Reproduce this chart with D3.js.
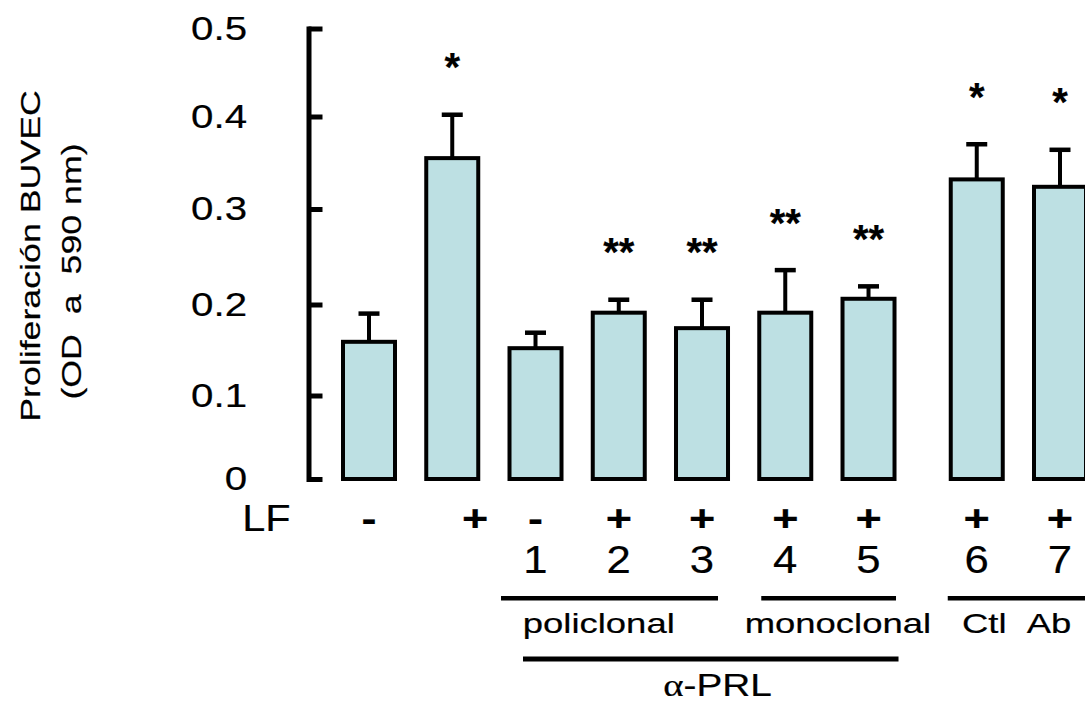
<!DOCTYPE html>
<html><head><meta charset="utf-8">
<script src="https://cdn.jsdelivr.net/npm/d3@7"></script>
<style>
body{margin:0;background:#fff}
svg{display:block;background:#fff}
text{font-family:"Liberation Sans",Arial,Helvetica,sans-serif;fill:#000;stroke:#000;stroke-width:0.2px}
</style>
</head><body>
<svg id="chart" width="1085" height="708"></svg>
<script>
// ---------- data ----------
const bars = ["control", "LF", "1", "2", "3", "4", "5", "6", "7"];
const lfSigns = ["-", "+", "-", "+", "+", "+", "+", "+", "+"];
const abNumbers = ["", "", "1", "2", "3", "4", "5", "6", "7"];
const means = [0.159, 0.355, 0.152, 0.191, 0.174, 0.191, 0.206, 0.332, 0.324];
const sems  = [0.031, 0.047, 0.017, 0.014, 0.031, 0.045, 0.013, 0.038, 0.040];
const stars = ["", "*", "", "**", "**", "**", "**", "*", "*"];
const yTicks = [0, 0.1, 0.2, 0.3, 0.4, 0.5];
const yTickLabels = ["0", "0.1", "0.2", "0.3", "0.4", "0.5"];
const groupLabels = ["policlonal", "monoclonal", ""];
const groupFrom = [2, 5, 7];
const groupTo = [4, 6, 8];
const subLabels = ["Ctl", "Ab"];
const subLabelBars = [7, 8];
const outerLabel = "α-PRL";
const outerFrom = 2, outerTo = 6;
const yTitle1 = "Proliferación BUVEC";
const yTitle2 = "(OD  a  590 nm)";

// ---------- layout ----------
const svg = d3.select("#chart");
const slot = i => i + (i >= 7 ? 0.3 : 0);
const x = d3.scaleLinear().domain([0, 8.3]).range([369, 1060]);
// tick positions follow the (slightly uneven) printed axis of the source figure
const y = d3.scaleLinear().domain(yTicks).range([479, 395.5, 304.5, 209, 116.5, 28.5]);
const fill = "#bde0e3";
const barW = 52;

function sText(parent, tx, ty, str, size, sx, anchor) {
  return parent.append("text")
    .attr("transform", `translate(${tx},${ty}) scale(${sx},1)`)
    .attr("text-anchor", anchor)
    .style("font-size", size + "px")
    .style("white-space", "pre")
    .text(str);
}

// y axis
const axisX = 308.5;
const yAxis = d3.axisLeft(y).tickValues(yTicks)
  .tickFormat((d, i) => yTickLabels[i])
  .tickSizeInner(-14).tickSizeOuter(0).tickPadding(50.4);
const ag = svg.append("g").attr("transform", `translate(${axisX},0)`).call(yAxis);
ag.select(".domain").attr("stroke", "#000").attr("stroke-width", 5).attr("stroke-linecap", "square");
ag.selectAll(".tick line").attr("stroke", "#000").attr("stroke-width", 5);
ag.selectAll(".tick text")
  .attr("fill", "#000")
  .style("font-family", '"Liberation Sans",Arial,sans-serif')
  .style("font-size", "33px")
  .attr("transform", "scale(1.22,1)");

// bars
const data = bars.map((b, i) => ({b, i, m: means[i], e: sems[i], s: stars[i]}));
const bg = svg.append("g");
bg.selectAll("rect").data(data).join("rect")
  .attr("x", d => x(slot(d.i)) - barW / 2)
  .attr("width", barW)
  .attr("y", d => y(d.m))
  .attr("height", d => y(0) - y(d.m))
  .attr("fill", fill).attr("stroke", "#000").attr("stroke-width", 4);

// error bars
bg.selectAll("line.err").data(data).join("line").attr("class", "err")
  .attr("x1", d => x(slot(d.i))).attr("x2", d => x(slot(d.i)))
  .attr("y1", d => y(d.m)).attr("y2", d => y(d.m + d.e))
  .attr("stroke", "#000").attr("stroke-width", 4);
bg.selectAll("line.cap").data(data).join("line").attr("class", "cap")
  .attr("x1", d => x(slot(d.i)) - 10.5).attr("x2", d => x(slot(d.i)) + 10.5)
  .attr("y1", d => y(d.m + d.e)).attr("y2", d => y(d.m + d.e))
  .attr("stroke", "#000").attr("stroke-width", 4.5);

// significance stars
bg.selectAll("text.star").data(data.filter(d => d.s)).join("text").attr("class", "star")
  .attr("x", d => x(slot(d.i)))
  .attr("y", d => y(d.m + d.e) - 53 + 19.5)
  .attr("text-anchor", "middle")
  .style("font-size", "40px").style("font-weight", "bold")
  .text(d => d.s);

// y title
svg.append("text")
  .attr("transform", "translate(39.5,256) rotate(-90) scale(1.3,1)")
  .attr("text-anchor", "middle").style("font-size", "27.5px").text(yTitle1);
svg.append("text")
  .attr("transform", "translate(80.5,271.5) rotate(-90) scale(1.3,1)")
  .attr("text-anchor", "middle").style("font-size", "27.5px").style("white-space", "pre").text(yTitle2);

// bottom labels
const lg = svg.append("g");
sText(lg, 242.3, 530.7, "LF", 37, 1.12, "start");
lfSigns.forEach((s, i) => {
  const dx = i === 1 ? 23 : 0;
  sText(lg, x(slot(i)) + dx, 531, s, 36, 1.25, "middle").style("font-weight", "bold");
});
abNumbers.forEach((n, i) => {
  if (n) sText(lg, x(slot(i)), 573, n, 38, 1.15, "middle");
});

// group brackets
const groupPads = [[-34.5, 16], [-24, 27.5], [-29, 30]];
const groupLabelDx = [-20, 11, 0];
groupLabels.forEach((g, k) => {
  const x1 = x(slot(groupFrom[k])) + groupPads[k][0];
  const x2 = x(slot(groupTo[k])) + groupPads[k][1];
  lg.append("line").attr("x1", x1).attr("x2", x2).attr("y1", 598.3).attr("y2", 598.3)
    .attr("stroke", "#000").attr("stroke-width", 4.5);
  if (g) {
    const cx = (x(slot(groupFrom[k])) + x(slot(groupTo[k]))) / 2 + groupLabelDx[k];
    sText(lg, cx, 633, g, 28.5, 1.28, "middle");
  }
});
const subDx = [7.5, -11];
subLabels.forEach((s, k) => sText(lg, x(slot(subLabelBars[k])) + subDx[k], 633, s, 28.5, 1.28, "middle"));

// outer bracket α-PRL
lg.append("line")
  .attr("x1", x(slot(outerFrom)) - 12.5).attr("x2", x(slot(outerTo)) + 30)
  .attr("y1", 659).attr("y2", 659).attr("stroke", "#000").attr("stroke-width", 5);
const ot = lg.append("text")
  .attr("transform", `translate(717.5,696) scale(1.25,1)`)
  .attr("text-anchor", "middle").style("font-size", "31px");
ot.append("tspan").style("font-family", '"Liberation Serif","DejaVu Serif",serif').text(outerLabel.slice(0, 1));
ot.append("tspan").text(outerLabel.slice(1));
</script>
</body></html>
